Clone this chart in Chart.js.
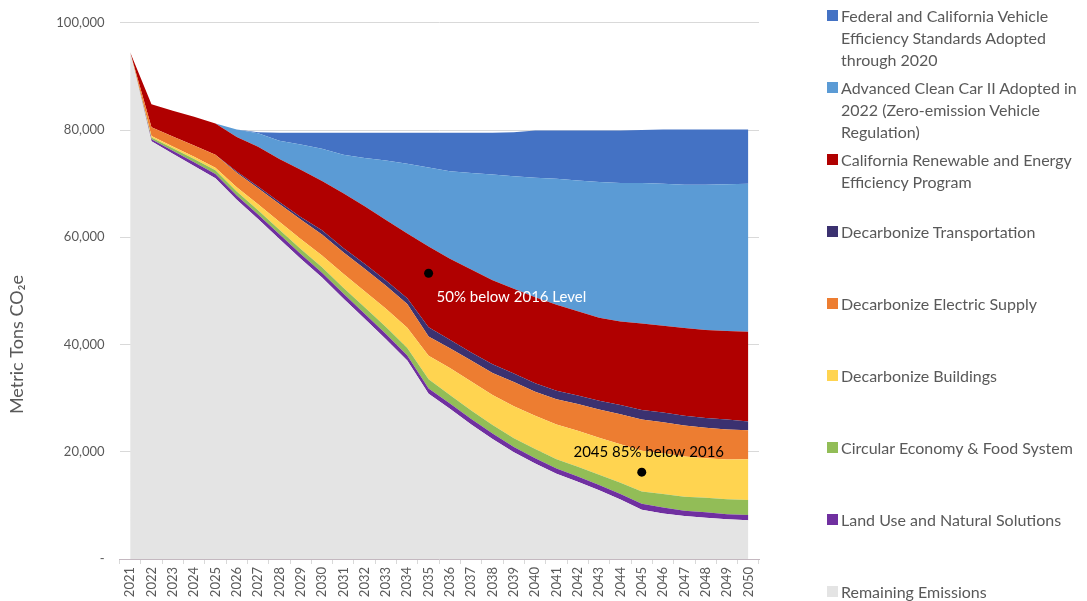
<!DOCTYPE html>
<html>
<head>
<meta charset="utf-8">
<script src="https://cdn.jsdelivr.net/npm/chart.js@4.4.0/dist/chart.umd.min.js"></script>
<style>
  html, body { margin: 0; padding: 0; background: #ffffff; }
  #wrap { position: relative; width: 1087px; height: 601px; overflow: hidden; }
  #c { position: absolute; left: 0; top: 0; }
  #legend { position: absolute; left: 827px; top: 0; width: 260px; height: 601px;
            font-family: Lato, 'Open Sans', sans-serif; font-size: 16px; color: #595959; }
  .item { position: absolute; left: 0; width: 260px; }
  .sw { position: absolute; left: 0; top: 5px; width: 11px; height: 11px; }
  .txt { position: absolute; left: 14px; top: 0; line-height: 22px; white-space: nowrap; }
</style>
</head>
<body>
<div id="wrap">
  <canvas id="c" width="1087" height="601"></canvas>
  <div id="legend"></div>
</div>
<script>
// ---------- DATA ----------
const years = ['2021','2022','2023','2024','2025','2026','2027','2028','2029','2030',
               '2031','2032','2033','2034','2035','2036','2037','2038','2039','2040',
               '2041','2042','2043','2044','2045','2046','2047','2048','2049','2050'];

const remainingEmissions = [94500, 77900, 75600, 73300, 71000, 67000, 63400, 59700, 56000, 52500,
                            48600, 44800, 41000, 37000, 30800, 28000, 25100, 22400, 19900, 17800,
                            15900, 14400, 12800, 11100, 9200, 8500, 8000, 7700, 7400, 7250];
const landUse = [0, 400, 550, 700, 800, 800, 850, 850, 900, 900,
                 900, 950, 950, 950, 1000, 1000, 1000, 1000, 1000, 1000,
                 1000, 1000, 1000, 1000, 1100, 1100, 1000, 1000, 950, 950];
const circularEconomy = [0, 300, 450, 600, 700, 750, 800, 850, 900, 1000,
                         1100, 1200, 1300, 1400, 1700, 1600, 1600, 1600, 1600, 1700,
                         1700, 1800, 1900, 2100, 2300, 2500, 2600, 2700, 2800, 2800];
const decarbBuildings = [0, 300, 350, 400, 450, 800, 1100, 1500, 1900, 2200,
                         2600, 3000, 3400, 3800, 4400, 5000, 5400, 5600, 6000, 6200,
                         6500, 6700, 6900, 7200, 7600, 7600, 7500, 7400, 7400, 7600];
const decarbElectric = [0, 1600, 1850, 2100, 2450, 2700, 3000, 3300, 3600, 3900,
                        4000, 4200, 4300, 4400, 3600, 3700, 3900, 4100, 4500, 4500,
                        4700, 5000, 5300, 5600, 5800, 5800, 5800, 5700, 5600, 5400];
const decarbTransport = [0, 0, 0, 0, 0, 200, 300, 400, 500, 800,
                         800, 900, 1000, 1100, 1700, 1600, 1500, 1600, 1600, 1600,
                         1600, 1600, 1600, 1700, 1800, 1800, 1800, 1800, 1850, 1650];
const caRenewable = [0, 4300, 4800, 5400, 5800, 6450, 7450, 8000, 8800, 9200,
                     10200, 10750, 11250, 12050, 15100, 15100, 15500, 15700, 15800, 16000,
                     16000, 15700, 15500, 15600, 16100, 16200, 16400, 16400, 16500, 16750];
const advancedCleanCar = [0, 0, 0, 0, 0, 1400, 2500, 3400, 4700, 6000,
                          7200, 9000, 11100, 13000, 14700, 16300, 18000, 19700, 21000, 22300,
                          23500, 24400, 25300, 25800, 26200, 26500, 26700, 27100, 27400, 27600];
const federalVehicle = [0, 0, 0, 0, 0, 0, 200, 1500, 2200, 3000,
                        4100, 4700, 5200, 5800, 6500, 7200, 7500, 7800, 8200, 8800,
                        9000, 9300, 9600, 9800, 9900, 10100, 10300, 10300, 10200, 10100];

// milestone markers
const milestoneYears = ['2035', '2045'];
const milestoneValues = [53300, 16200];
const milestoneTexts = ['50% below 2016 Level', '2045 85% below 2016'];

const yTickValues = [0, 20000, 40000, 60000, 80000, 100000];
const yAxisTitle = 'Metric Tons CO\u2082e';

// series (bottom of stack first); legend lines as shown in the legend
const seriesLegendLines = [
  ['Remaining Emissions'],
  ['Land Use and Natural Solutions'],
  ['Circular Economy & Food System'],
  ['Decarbonize Buildings'],
  ['Decarbonize Electric Supply'],
  ['Decarbonize Transportation'],
  ['California Renewable and Energy', 'Efficiency Program'],
  ['Advanced Clean Car II Adopted in', '2022 (Zero-emission Vehicle', 'Regulation)'],
  ['Federal and California Vehicle', 'Efficiency Standards Adopted', 'through 2020']
];
const seriesValues = [remainingEmissions, landUse, circularEconomy, decarbBuildings, decarbElectric,
                      decarbTransport, caRenewable, advancedCleanCar, federalVehicle];
const seriesColors = ['#E4E4E4', '#7030A0', '#92BD57', '#FFD450', '#ED7D31',
                      '#3B3170', '#B00000', '#5B9BD5', '#4472C4'];

// ---------- CHART ----------
Chart.defaults.font.family = "Lato, 'Open Sans', sans-serif";
Chart.defaults.color = '#595959';

const areaDatasets = seriesValues.map((vals, i) => ({
  type: 'line',
  label: seriesLegendLines[i].join(' '),
  data: vals,
  stack: 'main',
  order: 1,
  backgroundColor: seriesColors[i],
  borderColor: seriesColors[i],
  borderWidth: 0,
  pointRadius: 0,
  pointHoverRadius: 0,
  tension: 0,
  fill: i === 0 ? 'origin' : '-1'
}));

const markerDataset = {
  type: 'line',
  label: 'milestones',
  data: milestoneYears.map((yr, i) => ({ x: yr, y: milestoneValues[i] })),
  stack: 'markers',
  order: 0,
  showLine: false,
  fill: false,
  pointRadius: 4.5,
  pointBackgroundColor: '#000000',
  pointBorderColor: '#000000',
  pointBorderWidth: 0
};

const annotationPlugin = {
  id: 'milestoneText',
  afterDatasetsDraw(chart) {
    const idx = chart.data.datasets.indexOf(markerDataset);
    const meta = chart.getDatasetMeta(idx);
    const styles = [
      { color: '#ffffff', align: 'left', dx: 8, dy: 24 },
      { color: '#000000', align: 'center', dx: 7, dy: -20 }
    ];
    const ctx = chart.ctx;
    meta.data.forEach((pt, i) => {
      const s = styles[i];
      ctx.save();
      ctx.font = "15px Lato, 'Open Sans', sans-serif";
      ctx.fillStyle = s.color;
      ctx.textAlign = s.align;
      ctx.textBaseline = 'middle';
      ctx.fillText(milestoneTexts[i], pt.x + s.dx, pt.y + s.dy);
      ctx.restore();
    });
  },
  afterDraw(chart) {
    const a = chart.chartArea;
    const ctx = chart.ctx;
    ctx.save();
    ctx.translate(17, a.top + (a.bottom - a.top) * 0.6);
    ctx.rotate(-Math.PI / 2);
    ctx.font = "18px Lato, 'Open Sans', sans-serif";
    ctx.fillStyle = '#595959';
    ctx.textAlign = 'center';
    ctx.textBaseline = 'middle';
    ctx.fillText(yAxisTitle, 0, 0);
    ctx.restore();
  }
};

const chart = new Chart(document.getElementById('c'), {
  data: { labels: years, datasets: [...areaDatasets, markerDataset] },
  options: {
    responsive: false,
    animation: false,
    events: [],
    layout: { padding: { left: 0, right: 1087 - 759, top: 21, bottom: 0 } },
    plugins: { legend: { display: false }, tooltip: { enabled: false } },
    scales: {
      x: {
        type: 'category',
        offset: true,
        afterFit(scale) { scale.height = 42; },
        grid: { display: true, offset: true, drawOnChartArea: false, drawTicks: true,
                tickLength: 5, color: '#D9D9D9' },
        border: { display: true, color: '#C4B8C0', width: 1 },
        ticks: { autoSkip: false, maxRotation: 90, minRotation: 90, padding: 3,
                 font: { size: 13 }, color: '#595959' }
      },
      y: {
        stacked: true,
        min: 0, max: 100000,
        afterFit(scale) { scale.width = 119.5; },
        afterBuildTicks(scale) { scale.ticks = yTickValues.map(v => ({ value: v })); },
        grid: { drawTicks: false, color: ctx => (ctx.tick && ctx.tick.value === 0) ? 'rgba(0,0,0,0)' : '#D9D9D9' },
        border: { display: false },
        ticks: {
          padding: 15,
          font: { size: 13 },
          color: '#595959',
          callback: v => v === 0 ? '-' : v.toLocaleString('en-US')
        }
      }
    }
  },
  plugins: [annotationPlugin]
});

// ---------- HTML LEGEND (top of stack first) ----------
const legendEl = document.getElementById('legend');
for (let k = 0; k < seriesLegendLines.length; k++) {
  const i = seriesLegendLines.length - 1 - k;
  const item = document.createElement('div');
  item.className = 'item';
  item.style.top = (5 + 72 * k) + 'px';
  const sw = document.createElement('div');
  sw.className = 'sw';
  sw.style.background = chart.data.datasets[i].backgroundColor;
  const txt = document.createElement('div');
  txt.className = 'txt';
  txt.innerHTML = seriesLegendLines[i].map(s => s.replace(/&/g, '&amp;')).join('<br>');
  item.appendChild(sw);
  item.appendChild(txt);
  legendEl.appendChild(item);
}
</script>
</body>
</html>
